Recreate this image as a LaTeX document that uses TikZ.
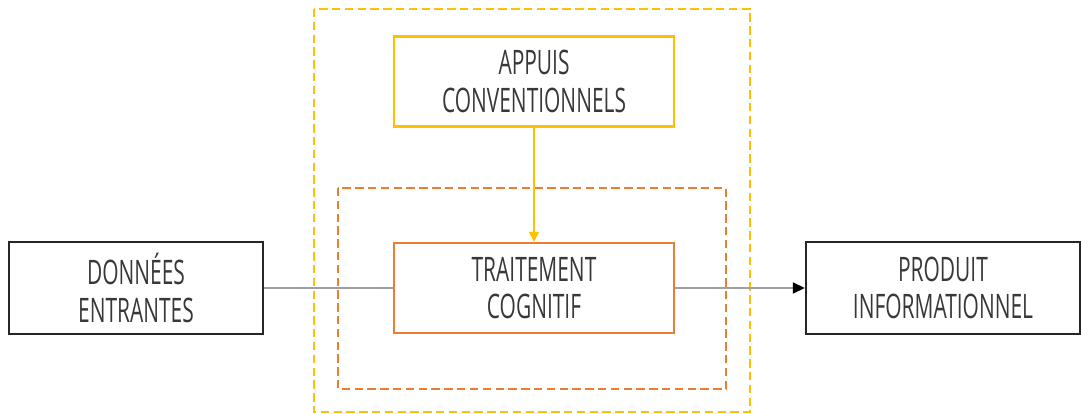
\documentclass[tikz,border=0pt]{standalone}
\usepackage{fontspec}
\setmainfont[FakeStretch=0.62]{Open Sans}
\usepackage{xcolor}
\usetikzlibrary{arrows.meta}
\definecolor{cadreJaune}{RGB}{255,192,0}
\definecolor{cadreOrange}{RGB}{237,125,49}
\definecolor{traitGris}{RGB}{160,160,160}
\definecolor{texteGris}{RGB}{56,56,56}
\tikzset{
  boite/.style={draw,line width=1.7pt,minimum height=2.25cm,inner sep=2pt,align=center,
    font=\fontsize{24}{26.5}\selectfont,text=texteGris},
  cadre/.style={line width=1.5pt,dash pattern=on 0.21cm off 0.11cm}
}
\begin{document}
\begin{tikzpicture}[x=0.025cm,y=-0.025cm]
  \useasboundingbox (0,0) rectangle (1081,414);
  % cadres en pointilles
  \draw[cadre,cadreJaune] (314,9) rectangle (750,412);
  \draw[cadre,cadreOrange] (338,188) rectangle (726,389);
  % boites
  \node[boite,draw=cadreJaune,minimum width=7cm] (appuis) at (534,81.5) {APPUIS\\CONVENTIONNELS};
  \node[boite,draw=cadreOrange,minimum width=7cm] (traitement) at (534,288) {TRAITEMENT\\COGNITIF};
  \node[boite,draw=black!85,minimum width=6.35cm,minimum height=2.3cm] (donnees) at (136,288) {DONNÉES\\ENTRANTES};
  \node[boite,draw=black!85,minimum width=6.85cm,minimum height=2.3cm] (produit) at (943,288) {PRODUIT\\INFORMATIONNEL};
  % liaisons
  \draw[traitGris,line width=0.9pt] (donnees.east) -- (traitement.west);
  \draw[traitGris,line width=0.9pt,-{Triangle[length=0.3cm,width=0.28cm,black]}] (traitement.east) -- (produit.west);
  \draw[cadreJaune,line width=0.9pt,-{Triangle[length=0.25cm,width=0.25cm]}] (appuis.south) -- (traitement.north);
\end{tikzpicture}
\end{document}
